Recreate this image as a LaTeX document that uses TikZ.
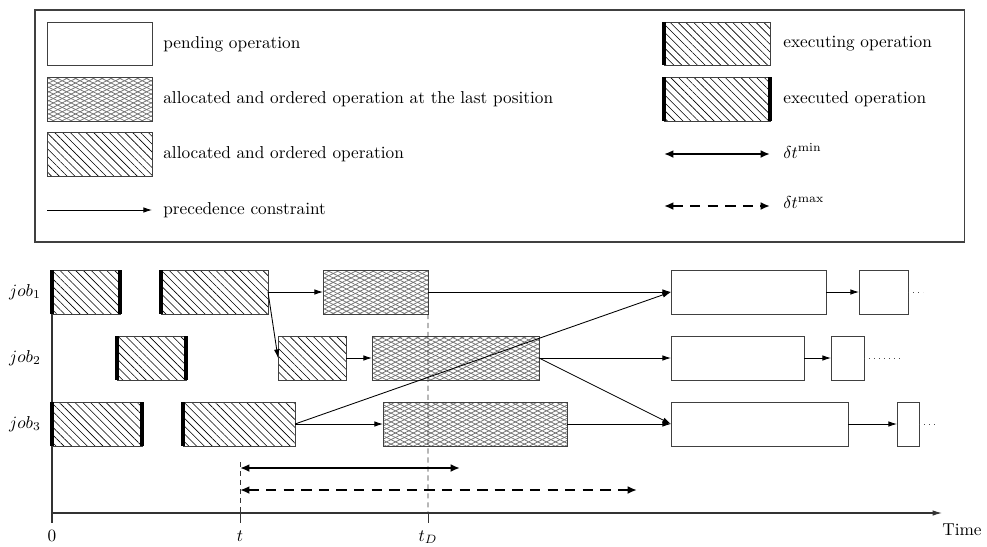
\documentclass[tikz,border=0pt]{standalone}
\usetikzlibrary{patterns.meta,arrows.meta,fit}

\tikzset{
  x=0.58pt, y=-0.58pt,
  opframe/.style={draw=black!75, line width=0.5pt, inner sep=0pt, outer sep=0pt},
  pending/.style={opframe},
  hatched/.style={opframe,
    pattern={Lines[angle=-45,distance=3.2pt,line width=0.35pt]}, pattern color=black},
  crossed/.style={opframe,
    pattern={Lines[angle=26.5,distance=2.3pt,line width=0.45pt]}, pattern color=black!55,
    preaction={pattern={Lines[angle=-26.5,distance=2.3pt,line width=0.45pt]}, pattern color=black!55}},
  bar/.style={line width=2.4pt, black, line cap=butt},
  prec/.style={line width=0.5pt, black, -{Latex[length=5pt,width=3.2pt]}},
  span/.style={line width=1.4pt, black, {Latex[length=5.5pt,width=4.6pt]}-{Latex[length=5.5pt,width=4.6pt]}},
  spandash/.style={span, dash pattern=on 6pt off 4.2pt},
  guide/.style={line width=0.45pt, black!80, dash pattern=on 3pt off 2.2pt},
  tick/.style={line width=0.5pt, black!80},
  axisline/.style={line width=0.6pt, black!80},
  trail/.style={line width=0.5pt, black!70, dash pattern=on 0.5pt off 2.4pt},
  lbl/.style={inner sep=0pt, anchor=west},
  legendframe/.style={draw=black!75, line width=0.6pt, inner sep=0pt},
}

\begin{document}
\begin{tikzpicture}
\useasboundingbox (0,0) rectangle (987,546);

% ---------- legend ----------
\node[legendframe, fit={(35,10)(964,242)}] (legend) {};

\node[pending, fit={(47,22)(152,65)}] (lgpend) {};
\node[lbl] (lgpendtxt) at (163,44) {pending operation};

\node[crossed, fit={(47,77)(152,121)}] (lgcross) {};
\node[lbl] (lgcrosstxt) at (163,99) {allocated and ordered operation at the last position};

\node[hatched, fit={(47,132)(152,176)}] (lghatch) {};
\node[lbl] (lghatchtxt) at (163,154) {allocated and ordered operation};

\coordinate (lgprecA) at (47,210);
\coordinate (lgprecB) at (152,210);
\draw[prec] (lgprecA) -- (lgprecB);
\node[lbl] (lgprectxt) at (163,210) {precedence constraint};

\node[hatched, fit={(664,22)(770,65)}] (lgexing) {};
\draw[bar] (lgexing.north west) -- (lgexing.south west);
\node[lbl] (lgexingtxt) at (783,44) {executing operation};

\node[hatched, fit={(664,77)(770,121)}] (lgexed) {};
\draw[bar] (lgexed.north west) -- (lgexed.south west);
\draw[bar] (lgexed.north east) -- (lgexed.south east);
\node[lbl] (lgexedtxt) at (783,99) {executed operation};

\coordinate (lgminA) at (664,154);
\coordinate (lgminB) at (770,154);
\draw[span] (lgminA) -- (lgminB);
\node[lbl] (lgmintxt) at (783,151) {$\delta t^{\mathrm{min}}$};

\coordinate (lgmaxA) at (664,206);
\coordinate (lgmaxB) at (770,206);
\draw[spandash] (lgmaxA) -- (lgmaxB);
\node[lbl] (lgmaxtxt) at (783,203) {$\delta t^{\mathrm{max}}$};

% ---------- job labels ----------
\node (job1) at (25,292) {$job_1$};
\node (job2) at (25,358) {$job_2$};
\node (job3) at (25,424) {$job_3$};

% ---------- axes ----------
\coordinate (vtop) at (52,270);
\coordinate (vbot) at (52,523);
\coordinate (origin) at (52,513);
\coordinate (tend) at (942,513);
\coordinate (tpos) at (240,513);
\coordinate (tposlow) at (240,523);
\coordinate (tpostop) at (240,462);
\coordinate (tD) at (428,513);
\coordinate (tDlow) at (428,523);
\draw[axisline] (vtop) -- (vbot);
\draw[axisline, -{Latex[length=5.5pt,width=3.2pt]}] (origin) -- (tend);
\draw[tick] (tpos) -- (tposlow);
\draw[tick] (tD) -- (tDlow);
\node[anchor=base] (lab0) at (52,541) {$0$};
\node[anchor=base] (labt) at (240,541) {$t$};
\node[anchor=base] (labtD) at (428,541) {$t_D$};
\node[anchor=base] (labtime) at (962,535) {Time};

% ---------- job 1 ----------
\node[hatched, fit={(52,270)(120,314)}] (j1a) {};
\node[hatched, fit={(161,270)(268,314)}] (j1b) {};
\node[crossed, fit={(323,270)(428,314)}] (j1c) {};
\node[pending, fit={(671,270)(826,314)}] (j1d) {};
\node[pending, fit={(859,270)(908,314)}] (j1e) {};
\coordinate (j1end) at (923,292);

% ---------- job 2 ----------
\node[hatched, fit={(117,336)(186,380)}] (j2a) {};
\node[hatched, fit={(278,336)(346,380)}] (j2b) {};
\node[crossed, fit={(372,336)(539,380)}] (j2c) {};
\node[pending, fit={(671,336)(804,380)}] (j2d) {};
\node[pending, fit={(831,336)(864,380)}] (j2e) {};
\coordinate (j2end) at (901,358);

% ---------- job 3 ----------
\node[hatched, fit={(52,402)(142,446)}] (j3a) {};
\node[hatched, fit={(183,402)(295,446)}] (j3b) {};
\node[crossed, fit={(383,402)(567,446)}] (j3c) {};
\node[pending, fit={(671,402)(848,446)}] (j3d) {};
\node[pending, fit={(897,402)(919,446)}] (j3e) {};
\coordinate (j3end) at (935,424);

% start/end marks of executing and executed operations
\foreach \op in {j1a,j2a,j3a} {
  \draw[bar] (\op.north west) -- (\op.south west);
  \draw[bar] (\op.north east) -- (\op.south east);
}
\foreach \op in {j1b,j3b} {
  \draw[bar] (\op.north west) -- (\op.south west);
}

% time guides
\draw[guide] (j1c.south east) -- (tD);
\draw[guide] (tpostop) -- (tpos);

% precedence constraints
\draw[prec] (j1b.east) -- (j1c.west);
\draw[prec] (j1b.east) -- (j2b.west);
\draw[prec] (j1c.east) -- (j1d.west);
\draw[prec] (j3b.east) -- (j1d.west);
\draw[prec] (j2b.east) -- (j2c.west);
\draw[prec] (j2c.east) -- (j2d.west);
\draw[prec] (j2c.east) -- (j3d.west);
\draw[prec] (j3b.east) -- (j3c.west);
\draw[prec] (j3c.east) -- (j3d.west);
\draw[prec] (j1d.east) -- (j1e.west);
\draw[prec] (j2d.east) -- (j2e.west);
\draw[prec] (j3d.east) -- (j3e.west);

% continuation dots
\draw[trail] (j1e.east) -- (j1end);
\draw[trail] (j2e.east) -- (j2end);
\draw[trail] (j3e.east) -- (j3end);

% time windows
\coordinate (minA) at (240,468);
\coordinate (minB) at (460,468);
\coordinate (maxA) at (240,490);
\coordinate (maxB) at (637,490);
\draw[span] (minA) -- (minB);
\draw[spandash] (maxA) -- (maxB);
\end{tikzpicture}
\end{document}
